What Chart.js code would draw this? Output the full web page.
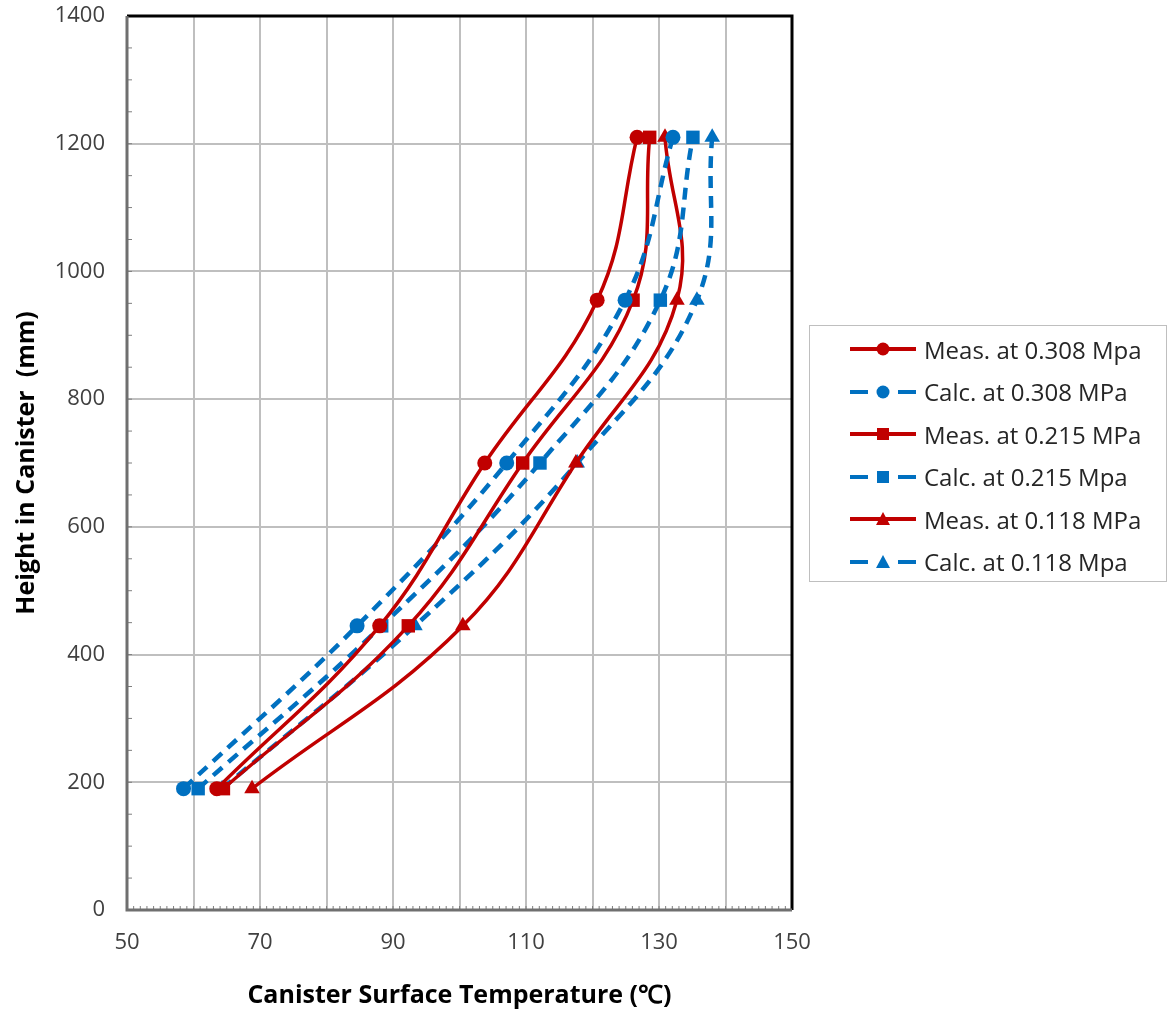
<!DOCTYPE html>
<html>
<head>
<meta charset="utf-8">
<script src="https://cdn.jsdelivr.net/npm/chart.js@4.4.1/dist/chart.umd.min.js"></script>
<style>
  body { margin: 0; background: #fff; }
  #wrap { position: relative; width: 1169px; height: 1011px; }
  #legend {
    position: absolute; left: 809px; top: 325px; width: 358px; height: 257px;
    border: 1.5px solid #bfbfbf; box-sizing: border-box;
    font-family: "Open Sans", "Liberation Sans", sans-serif; font-size: 24px; color: #262626;
  }
  .row { position: absolute; left: 40px; height: 30px; display: flex; align-items: center; white-space: nowrap; }
  .row canvas { margin-right: 8px; }
</style>
</head>
<body>
<div id="wrap">
  <canvas id="tempChart" width="1169" height="1011"></canvas>
  <div id="legend"></div>
</div>
<script>
const heights = [190, 445, 700, 955, 1210];
const measA = [63.5, 88.0, 103.8, 120.7, 126.7];   // Meas. 0.308
const calcA = [58.5, 84.6, 107.1, 124.9, 132.1];   // Calc. 0.308
const measB = [64.5, 92.3, 109.5, 126.1, 128.6];   // Meas. 0.215
const calcB = [60.7, 88.3, 112.1, 130.2, 135.1];   // Calc. 0.215
const measC = [68.8, 100.5, 117.5, 132.7, 130.9];  // Meas. 0.118
const calcC = [64.3, 93.3, 117.7, 135.7, 138.0];   // Calc. 0.118
const seriesNames = ['Meas. at 0.308 Mpa', 'Calc. at 0.308 MPa', 'Meas. at 0.215 MPa',
                     'Calc. at 0.215 Mpa', 'Meas. at 0.118 MPa', 'Calc. at 0.118 Mpa'];
const xTicks = [50, 70, 90, 110, 130, 150];

const RED = '#c00000', BLUE = '#0070c0';
const FONT = '"Open Sans", "Liberation Sans", sans-serif';

function pts(temps) {
    return temps.map((t, i) => ({ x: t, y: heights[i] }));
}

const radius = { circle: 7.5, rect: 9.5, triangle: 9 };

function makeSet(label, temps, meas, shape) {
    return {
        label: label,
        data: pts(temps),
        showLine: true,
        borderColor: meas ? RED : BLUE,
        backgroundColor: meas ? RED : BLUE,
        borderWidth: meas ? 3.5 : 4.5,
        borderDash: meas ? [] : [12, 8],
        tension: 0.4,
        pointStyle: shape,
        pointRadius: radius[shape],
        pointBorderWidth: 0
    };
}

const datasets = [
    makeSet(seriesNames[0], measA, true, 'circle'),
    makeSet(seriesNames[1], calcA, false, 'circle'),
    makeSet(seriesNames[2], measB, true, 'rect'),
    makeSet(seriesNames[3], calcB, false, 'rect'),
    makeSet(seriesNames[4], measC, true, 'triangle'),
    makeSet(seriesNames[5], calcC, false, 'triangle')
];

// frame + minor ticks, like the spreadsheet original
const framePlugin = {
    id: 'frame',
    beforeDatasetsDraw(chart) {
        const { ctx, chartArea: a, scales } = chart;
        ctx.save();
        ctx.strokeStyle = '#7f7f7f';
        ctx.lineWidth = 1;
        for (let v = 0; v <= 1400; v += 50) {
            const y = scales.y.getPixelForValue(v);
            ctx.beginPath(); ctx.moveTo(a.left, y); ctx.lineTo(a.left + 5, y); ctx.stroke();
        }
        for (let v = 50; v <= 150; v += 1) {
            const x = scales.x.getPixelForValue(v);
            ctx.beginPath(); ctx.moveTo(x, a.bottom); ctx.lineTo(x, a.bottom - 4); ctx.stroke();
        }
        ctx.lineWidth = 3;
        ctx.strokeStyle = '#000';
        ctx.beginPath();
        ctx.moveTo(a.left, a.top); ctx.lineTo(a.right, a.top); ctx.lineTo(a.right, a.bottom);
        ctx.stroke();
        ctx.strokeStyle = '#6f6f6f';
        ctx.beginPath();
        ctx.moveTo(a.left, a.top); ctx.lineTo(a.left, a.bottom); ctx.lineTo(a.right, a.bottom);
        ctx.stroke();
        ctx.restore();
    }
};

const ctx = document.getElementById('tempChart').getContext('2d');
const chart = new Chart(ctx, {
    type: 'scatter',
    data: { datasets: datasets },
    options: {
        responsive: false,
        animation: false,
        layout: { padding: { left: 8, right: 377, top: 16, bottom: 0 } },
        plugins: { legend: { display: false }, tooltip: { enabled: false } },
        scales: {
            x: {
                type: 'linear', min: 50, max: 150,
                afterFit: s => { s.height = 101; s.paddingLeft = 0; s.paddingRight = 0; },
                ticks: {
                    stepSize: 10, padding: 20, color: '#404040',
                    font: { family: FONT, size: 22 },
                    callback: v => xTicks.includes(v) ? String(v) : ''
                },
                grid: { color: '#bfbfbf', lineWidth: 2, drawTicks: false },
                border: { display: false },
                title: {
                    display: true, text: 'Canister Surface Temperature (℃)', color: '#000',
                    padding: { top: 4, bottom: 0 },
                    font: { family: FONT, size: 25, weight: 'bold' }
                }
            },
            y: {
                type: 'linear', min: 0, max: 1400,
                afterFit: s => { s.width = 119; s.paddingTop = 0; s.paddingBottom = 0; },
                ticks: {
                    stepSize: 200, padding: 22, color: '#404040',
                    font: { family: FONT, size: 22 },
                    callback: v => String(v)
                },
                grid: { color: '#bfbfbf', lineWidth: 2, drawTicks: false },
                border: { display: false },
                title: {
                    display: true, text: 'Height in Canister  (mm)', color: '#000',
                    font: { family: FONT, size: 25, weight: 'bold' }
                }
            }
        }
    },
    plugins: [framePlugin]
});

// legend with line + marker icons
const legend = document.getElementById('legend');
datasets.forEach((ds, i) => {
    const row = document.createElement('div');
    row.className = 'row';
    row.style.top = (8 + i * 42.5) + 'px';
    const c = document.createElement('canvas');
    c.width = 66; c.height = 20;
    const g = c.getContext('2d');
    g.strokeStyle = ds.borderColor;
    g.fillStyle = ds.borderColor;
    g.lineWidth = 4;
    if (ds.borderDash.length) g.setLineDash([18, 30]);
    g.beginPath(); g.moveTo(0, 10); g.lineTo(66, 10); g.stroke();
    g.setLineDash([]);
    g.beginPath();
    if (ds.pointStyle === 'circle') g.arc(33, 10, 6.5, 0, Math.PI * 2);
    else if (ds.pointStyle === 'rect') g.rect(27, 4, 12, 12);
    else { g.moveTo(33, 3); g.lineTo(40, 16); g.lineTo(26, 16); g.closePath(); }
    g.fill();
    const t = document.createElement('span');
    t.textContent = ds.label;
    row.appendChild(c);
    row.appendChild(t);
    legend.appendChild(row);
});
</script>
</body>
</html>
